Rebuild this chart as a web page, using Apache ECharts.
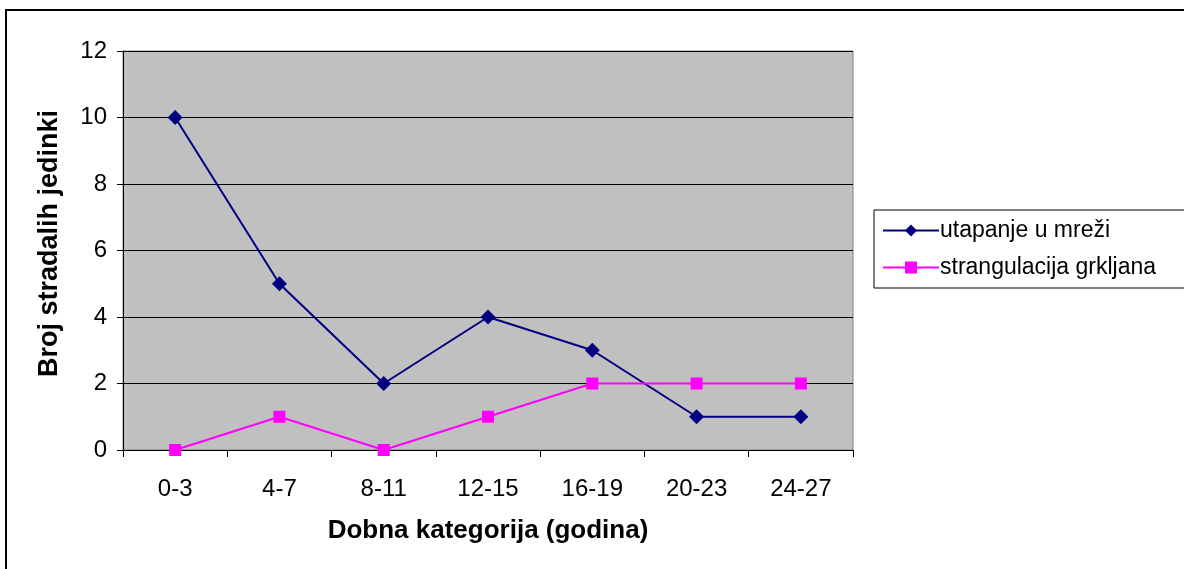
<!DOCTYPE html>
<html>
<head>
<meta charset="utf-8">
<script src="https://cdn.jsdelivr.net/npm/echarts@6/dist/echarts.min.js"></script>
<style>
  html, body { margin: 0; padding: 0; background: #fff; }
  #chart { width: 1184px; height: 569px; }
</style>
</head>
<body>
<div id="chart"></div>
<script>
// kategorije i vrijednosti očitane sa slike
const categories = ["0-3", "4-7", "8-11", "12-15", "16-19", "20-23", "24-27"];
const utapanje = [10, 5, 2, 4, 3, 1, 1];
const strangulacija = [0, 1, 0, 1, 2, 2, 2];

const font = "Arial, 'Liberation Sans', sans-serif";
const chart = echarts.init(document.getElementById("chart"));

chart.setOption({
  backgroundColor: "#fff",
  animation: false,
  textStyle: { fontFamily: font },
  graphic: [
    {
      type: "rect",
      shape: { x: 6, y: 10, width: 1400, height: 800 },
      style: { fill: "none", stroke: "#000", lineWidth: 2 },
      silent: true
    }
  ],
  grid: {
    left: 123,
    top: 51,
    width: 730,
    height: 399,
    show: true,
    backgroundColor: "#C0C0C0",
    borderColor: "#808080",
    borderWidth: 1
  },
  legend: {
    orient: "vertical",
    left: 874,
    top: 210,
    padding: [9, 60, 9, 8],
    itemGap: 14,
    itemWidth: 56,
    itemHeight: 15,
    borderColor: "#000",
    borderWidth: 1,
    backgroundColor: "#fff",
    textStyle: { fontFamily: font, fontSize: 23, color: "#000", padding: [0, 0, 0, -4] },
    data: ["utapanje u mreži", "strangulacija grkljana"]
  },
  xAxis: {
    type: "category",
    data: categories,
    boundaryGap: true,
    name: "Dobna kategorija (godina)",
    nameLocation: "middle",
    nameGap: 68,
    nameTextStyle: { fontFamily: font, fontSize: 26, fontWeight: "bold", color: "#000" },
    axisLine: { lineStyle: { color: "#000", width: 1 } },
    axisTick: { show: true, alignWithLabel: false, length: 7, lineStyle: { color: "#000" } },
    axisLabel: { fontFamily: font, fontSize: 24, color: "#000", margin: 27 },
    splitLine: { show: false }
  },
  yAxis: {
    type: "value",
    min: 0,
    max: 12,
    interval: 2,
    name: "Broj stradalih jedinki",
    nameLocation: "middle",
    nameGap: 60,
    nameTextStyle: { fontFamily: font, fontSize: 27, fontWeight: "bold", color: "#000", padding: [0, 0, 0, 14] },
    axisLine: { show: true, lineStyle: { color: "#000", width: 1 } },
    axisTick: { show: true, length: 6, lineStyle: { color: "#000" } },
    axisLabel: { fontFamily: font, fontSize: 24, color: "#000", margin: 16 },
    splitLine: { show: true, lineStyle: { color: "#000", width: 1 } }
  },
  series: [
    {
      name: "utapanje u mreži",
      type: "line",
      data: utapanje,
      symbol: "diamond",
      symbolSize: 15,
      lineStyle: { color: "#000080", width: 2 },
      itemStyle: { color: "#000080" }
    },
    {
      name: "strangulacija grkljana",
      type: "line",
      data: strangulacija,
      symbol: "rect",
      symbolSize: 12,
      lineStyle: { color: "#FF00FF", width: 2 },
      itemStyle: { color: "#FF00FF" }
    }
  ]
});
</script>
</body>
</html>
